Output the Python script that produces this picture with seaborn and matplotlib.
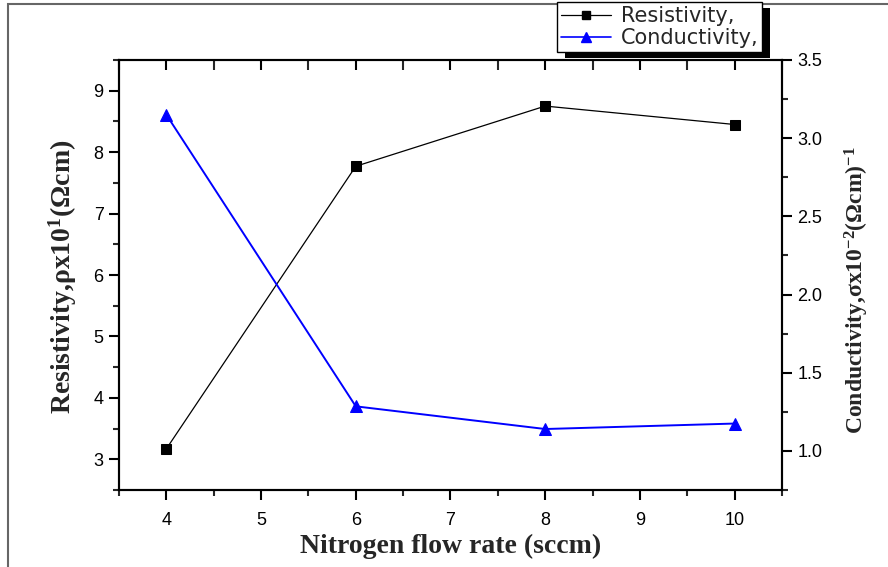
import matplotlib
matplotlib.use("Agg")
import matplotlib.pyplot as plt
import seaborn as sns
import pandas as pd
from matplotlib.lines import Line2D
from matplotlib.patches import Rectangle
from matplotlib.ticker import MultipleLocator, FormatStrFormatter

# Film properties versus nitrogen flow rate
flow_rate = [4, 6, 8, 10]                      # sccm
resistivity = [3.17, 7.77, 8.75, 8.45]         # x10^1 ohm·cm
conductivity = [3.15, 1.285, 1.14, 1.175]      # x10^-2 (ohm·cm)^-1

df = pd.DataFrame({"flow": flow_rate, "rho": resistivity, "sigma": conductivity})

sns.set_style("ticks")
plt.rcParams["font.family"] = ["Liberation Sans", "DejaVu Sans"]
plt.rcParams["mathtext.fontset"] = "custom"
plt.rcParams["mathtext.rm"] = "Liberation Serif:bold"
plt.rcParams["mathtext.it"] = "Liberation Serif:italic:bold"
plt.rcParams["mathtext.bf"] = "Liberation Serif:bold"

fig = plt.figure(figsize=(8.88, 5.67), dpi=100)
ax = fig.add_axes([119 / 888, 1 - 490 / 567, (782 - 119) / 888, (490 - 60) / 567])
ax2 = ax.twinx()

sns.lineplot(data=df, x="flow", y="rho", ax=ax, color="black", linewidth=0.9,
             marker="s", markersize=7, markeredgecolor="black", legend=False)
sns.lineplot(data=df, x="flow", y="sigma", ax=ax2, color="blue", linewidth=1.4,
             marker="^", markersize=8, markeredgecolor="blue", legend=False)

ax.set_xlim(3.5, 10.5)
ax.set_ylim(2.5, 9.5)
ax2.set_ylim(0.75, 3.5)

ax.xaxis.set_major_locator(MultipleLocator(1))
ax.xaxis.set_minor_locator(MultipleLocator(0.5))
ax.yaxis.set_major_locator(MultipleLocator(1))
ax.yaxis.set_minor_locator(MultipleLocator(0.5))
ax2.yaxis.set_major_locator(MultipleLocator(0.5))
ax2.yaxis.set_minor_locator(MultipleLocator(0.25))
ax2.yaxis.set_major_formatter(FormatStrFormatter("%.1f"))

for a in (ax, ax2):
    for s in a.spines.values():
        s.set_linewidth(1.5)
        s.set_color("black")
        s.set_visible(True)

tick_size = 13
ax.tick_params(axis="both", which="major", direction="out", length=7, width=1.5,
               labelsize=tick_size, colors="black", pad=4)
ax.tick_params(axis="both", which="minor", direction="out", length=4.5, width=1.5)
ax.tick_params(axis="x", which="both", top=True)
ax.tick_params(axis="x", which="major", pad=9)
ax2.tick_params(axis="y", which="major", direction="out", length=7, width=1.5,
                labelsize=tick_size, colors="black", pad=4)
ax2.tick_params(axis="y", which="minor", direction="out", length=4.5, width=1.5)

# top axis ticks point inward
for t in ax.xaxis.get_major_ticks() + ax.xaxis.get_minor_ticks():
    t.tick2line.set_marker(matplotlib.lines.TICKDOWN)
    t.tick2line.set_markersize(7)

serif_bold = dict(family="Liberation Serif", fontweight="bold")
ax.set_xlabel("Nitrogen flow rate (sccm)", fontsize=20, **serif_bold)
ax.set_ylabel(r"Resistivity,ρx10$^{1}$(Ωcm)", fontsize=20, **serif_bold)
ax2.set_ylabel(r"Conductivity,σx10$^{-2}$(Ωcm)$^{-1}$", fontsize=17, **serif_bold)
ax.xaxis.set_label_coords(0.5, -0.102)
ax.yaxis.set_label_coords(-0.06, 0.495)
ax2.yaxis.set_label_coords(1.092, 0.465)

# legend with a solid drop shadow
handles = [
    Line2D([], [], color="black", linewidth=0.9, marker="s", markersize=6),
    Line2D([], [], color="blue", linewidth=1.2, marker="^", markersize=7),
]
leg = fig.legend(handles, ["Resistivity,", "Conductivity,"], loc="upper left",
                 bbox_to_anchor=(557 / 888, 1 - 2 / 567), borderaxespad=0,
                 frameon=True, fancybox=False, edgecolor="black", framealpha=1,
                 prop={"family": "DejaVu Sans", "size": 15}, handlelength=2.4,
                 handletextpad=0.45, borderpad=0.2, labelspacing=0.1)
leg.get_frame().set_linewidth(1.0)
leg.set_zorder(10)
fig.canvas.draw()
bb = leg.get_window_extent().transformed(fig.transFigure.inverted())
shadow = Rectangle((bb.x0 + 8 / 888, bb.y0 - 6 / 567), bb.width, bb.height,
                   transform=fig.transFigure, facecolor="black", edgecolor="none",
                   zorder=9)
fig.patches.append(shadow)

# outer frame
fig.patches.append(Rectangle((8 / 888, -0.05), 1.2, 1 - 3.5 / 567 + 0.05,
                             transform=fig.transFigure, fill=False,
                             edgecolor="#666666", linewidth=1.5, zorder=0))

fig.savefig("out.png", dpi=100)
